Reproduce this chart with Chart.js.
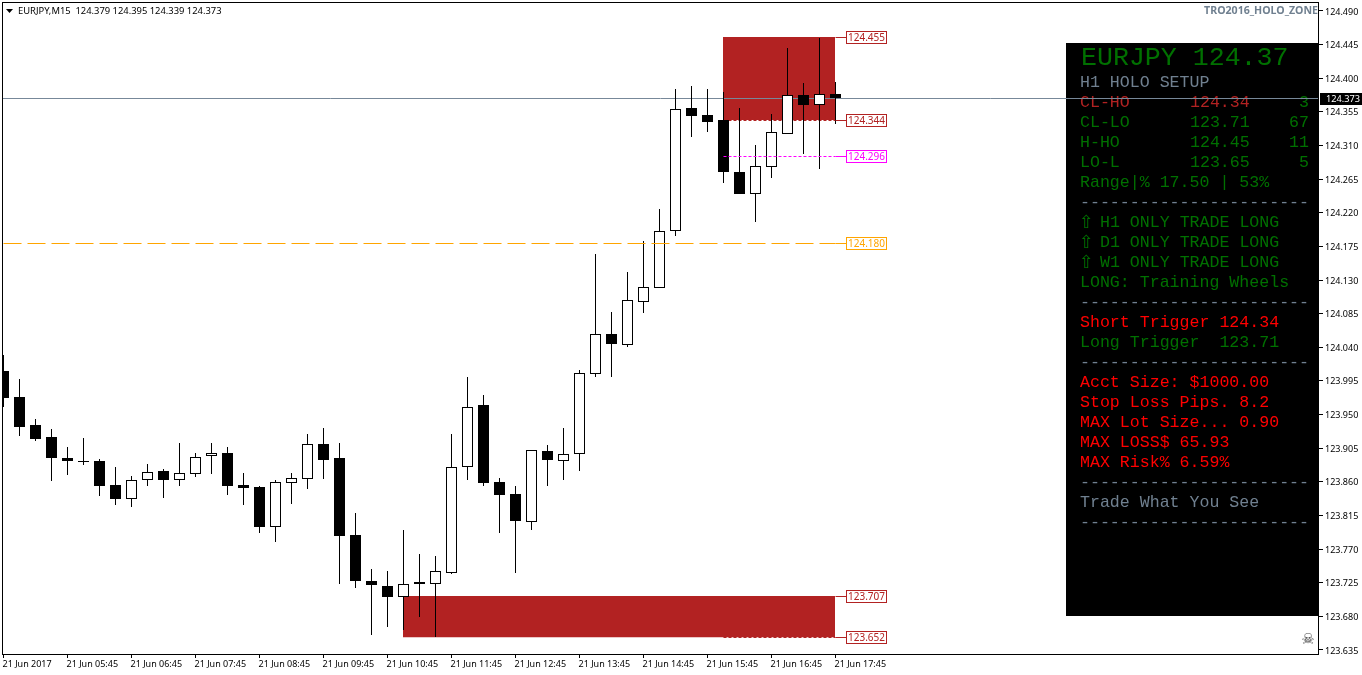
<!DOCTYPE html>
<html>
<head>
<meta charset="utf-8">
<title>EURJPY,M15</title>
<script src="https://cdn.jsdelivr.net/npm/chart.js@4/dist/chart.umd.js"></script>
<style>
  html, body { margin: 0; padding: 0; background: #fff; }
  canvas { display: block; }
</style>
</head>
<body>
<canvas id="chart" width="1362" height="675"></canvas>
<script>
// candle data, one entry per 15 minute bar
const opens = [124.008, 123.973, 123.936, 123.920, 123.892, 123.888, 123.888, 123.856, 123.837, 123.862,
  123.875, 123.862, 123.871, 123.895, 123.899, 123.856, 123.853, 123.800, 123.859, 123.864,
  123.911, 123.892, 123.789, 123.727, 123.721, 123.706, 123.726, 123.723, 123.738, 123.880,
  123.963, 123.860, 123.844, 123.806, 123.901, 123.888, 123.897, 124.004, 124.058, 124.043,
  124.101, 124.119, 124.196, 124.360, 124.351, 124.344, 124.275, 124.245, 124.281, 124.325,
  124.378, 124.364, 124.379];
const highs = [124.030, 123.998, 123.944, 123.931, 123.907, 123.919, 123.891, 123.880, 123.868, 123.884,
  123.877, 123.912, 123.899, 123.912, 123.907, 123.872, 123.854, 123.862, 123.872, 123.924,
  123.932, 123.912, 123.818, 123.743, 123.741, 123.796, 123.763, 123.761, 123.924, 124.000,
  123.976, 123.865, 123.854, 123.903, 123.909, 123.932, 124.010, 124.165, 124.087, 124.141,
  124.182, 124.225, 124.386, 124.390, 124.386, 124.382, 124.360, 124.311, 124.352, 124.441,
  124.394, 124.454, 124.395];
const lows = [123.960, 123.921, 123.915, 123.861, 123.869, 123.883, 123.841, 123.829, 123.826, 123.854,
  123.838, 123.854, 123.867, 123.871, 123.842, 123.829, 123.792, 123.780, 123.830, 123.850,
  123.864, 123.723, 123.718, 123.655, 123.666, 123.662, 123.679, 123.652, 123.737, 123.862,
  123.854, 123.792, 123.738, 123.796, 123.854, 123.862, 123.875, 124.000, 124.000, 124.040,
  124.086, 124.119, 124.189, 124.321, 124.328, 124.260, 124.245, 124.208, 124.267, 124.325,
  124.299, 124.279, 124.339];
const closes = [123.972, 123.933, 123.917, 123.892, 123.888, 123.887, 123.854, 123.837, 123.862, 123.873,
  123.862, 123.872, 123.893, 123.899, 123.854, 123.852, 123.800, 123.860, 123.865, 123.911,
  123.889, 123.788, 123.727, 123.722, 123.706, 123.723, 123.723, 123.741, 123.880, 123.960,
  123.859, 123.842, 123.808, 123.903, 123.889, 123.897, 124.006, 124.058, 124.044, 124.103,
  124.121, 124.196, 124.359, 124.350, 124.342, 124.275, 124.245, 124.283, 124.328, 124.378,
  124.364, 124.379, 124.373];

// axis ticks
const xTickBars = [0, 4, 8, 12, 16, 20, 24, 28, 32, 36, 40, 44, 48, 52];
const xTickLabels = ['21 Jun 2017', '21 Jun 05:45', '21 Jun 06:45', '21 Jun 07:45', '21 Jun 08:45',
  '21 Jun 09:45', '21 Jun 10:45', '21 Jun 11:45', '21 Jun 12:45', '21 Jun 13:45', '21 Jun 14:45',
  '21 Jun 15:45', '21 Jun 16:45', '21 Jun 17:45'];
const yTicks = [124.490, 124.445, 124.400, 124.355, 124.310, 124.265, 124.220, 124.175, 124.130, 124.085,
  124.040, 123.995, 123.950, 123.905, 123.860, 123.815, 123.770, 123.725, 123.680, 123.635];

// holo zones and price levels
const upperZone = { from: 45, to: 52, top: 124.455, bottom: 124.344 };
const lowerZone = { from: 25, to: 52, top: 123.707, bottom: 123.652 };
const levelPrices = [124.455, 124.344, 124.296, 124.180, 123.707, 123.652];
const levelStartBars = [52, 45, 45, 0, 52, 45];
const levelColors = ['#B22222', '#B22222', '#FF00FF', '#FFA500', '#B22222', '#B22222'];
const levelDash = [[], [3, 2], [3, 2], [18, 6], [], [3, 2]];
const currentPrice = 124.373;
const headerText = 'EURJPY,M15  124.379 124.395 124.339 124.373';
const indicatorName = 'TRO2016_HOLO_ZONE';

// text panel
const panelTitle = 'EURJPY 124.37';
const panelSetup = 'H1 HOLO SETUP';
const setupNames = ['CL-HO', 'CL-LO', 'H-HO', 'LO-L'];
const setupPrices = ['124.34', '123.71', '124.45', '123.65'];
const setupPips = ['3', '67', '11', '5'];
const panelRange = 'Range|% 17.50 | 53%';
const trendRows = ['H1 ONLY TRADE LONG', 'D1 ONLY TRADE LONG', 'W1 ONLY TRADE LONG'];
const panelLong = 'LONG: Training Wheels';
const shortTrigger = 'Short Trigger 124.34';
const longTrigger = 'Long Trigger  123.71';
const riskRows = ['Acct Size: $1000.00', 'Stop Loss Pips. 8.2', 'MAX Lot Size... 0.90', 'MAX LOSS$ 65.93', 'MAX Risk% 6.59%'];
const panelFoot = 'Trade What You See';
const panelRule = '-----------------------';

const bars = opens.map((o, i) => i);
const uiFont = '"Noto Sans", sans-serif';
const monoFont = '"Liberation Mono", monospace';
const GREEN = '#007000';
const SLATE = '#708090';

const datasets = [];

// candle bodies, white when the bar closed up
datasets.push({
  type: 'bar',
  order: 1,
  data: bars.map(i => ({ x: i, y: [opens[i], closes[i]] })),
  backgroundColor: bars.map(i => closes[i] >= opens[i] ? '#fff' : '#000'),
  borderColor: '#000',
  borderWidth: 1,
  borderSkipped: false,
  inflateAmount: 0,
  grouped: false,
  barPercentage: 1,
  categoryPercentage: 1,
  maxBarThickness: 11
});

// wicks
datasets.push({
  type: 'bar',
  order: 2,
  data: bars.map(i => ({ x: i, y: [lows[i], highs[i]] })),
  backgroundColor: '#000',
  borderWidth: 0,
  inflateAmount: 0,
  grouped: false,
  barPercentage: 1,
  categoryPercentage: 1,
  maxBarThickness: 1
});

// current price line sits between zones and candles
datasets.push({
  type: 'line',
  order: 3,
  data: [{ x: -1, y: currentPrice }, { x: 83, y: currentPrice }],
  borderColor: '#778899',
  borderWidth: 1,
  pointRadius: 0
});

// the two red zones, at the back
[upperZone, lowerZone].forEach(zone => {
  datasets.push({
    type: 'line',
    order: 5,
    isZone: true,
    data: [{ x: zone.from, y: zone.top }, { x: zone.to, y: zone.top }],
    borderWidth: 0,
    pointRadius: 0,
    backgroundColor: '#B22222',
    fill: { value: zone.bottom }
  });
});

// level lines and the short solid piece going to each label
levelPrices.forEach((price, i) => {
  datasets.push({
    type: 'line',
    order: i === 1 || i === 5 ? 4 : 0,
    data: [{ x: levelStartBars[i], y: price }, { x: 52, y: price }],
    borderColor: levelColors[i],
    borderWidth: 1,
    borderDash: levelDash[i],
    pointRadius: 0
  });
  datasets.push({
    type: 'line',
    order: 0,
    data: [{ x: 52, y: price }, { x: 52.69, y: price }],
    borderColor: levelColors[i],
    borderWidth: 1,
    pointRadius: 0
  });
});

// keeps candles and lines on whole pixels like the terminal does
const snapPlugin = {
  id: 'snap',
  afterDatasetsUpdate(chart) {
    chart.getSortedVisibleDatasetMetas().forEach(meta => {
      const ds = chart.data.datasets[meta.index];
      meta.data.forEach(el => {
        if (meta.type === 'bar') {
          el.y = Math.round(el.y);
          el.base = Math.round(el.base);
          if (el.y === el.base) el.base += 1;
        } else if (ds.isZone) {
          el.x = Math.floor(el.x);
          el.y = Math.round(el.y);
        } else {
          el.y = Math.round(el.y) + 0.5;
        }
      });
    });
  }
};

// black panel goes under the price line
const panelPlugin = {
  id: 'panel',
  beforeDatasetsDraw(chart) {
    const ctx = chart.ctx;
    ctx.save();
    ctx.fillStyle = '#000';
    ctx.fillRect(1066, 43, 253, 573);
    ctx.textBaseline = 'middle';
    ctx.textAlign = 'left';

    const row = (text, y, color, x) => {
      ctx.fillStyle = color;
      ctx.fillText(text, x === undefined ? 1080 : x, y);
    };

    ctx.font = '26.6px ' + monoFont;
    row(panelTitle, 58, GREEN, 1081);

    ctx.font = '16.6px ' + monoFont;
    row(panelSetup, 83, SLATE);
    setupNames.forEach((name, i) => {
      const y = 103 + i * 20;
      const color = i === 0 ? '#B22222' : GREEN;
      row(name, y, color);
      row(setupPrices[i], y, color, 1190);
      ctx.textAlign = 'right';
      row(setupPips[i], y, GREEN, 1309);
      ctx.textAlign = 'left';
    });
    row(panelRange, 183, GREEN);
    row(panelRule, 203, SLATE);
    trendRows.forEach((text, i) => {
      const y = 223 + i * 20;
      ctx.font = '18px "DejaVu Sans", sans-serif';
      row('\u21E7', y, GREEN, 1079);
      ctx.font = '16.6px ' + monoFont;
      row(text, y, GREEN, 1100);
    });
    row(panelLong, 283, GREEN);
    row(panelRule, 303, SLATE);
    row(shortTrigger, 323, '#FF0000');
    row(longTrigger, 343, GREEN);
    row(panelRule, 363, SLATE);
    riskRows.forEach((text, i) => row(text, 383 + i * 20, '#FF0000'));
    row(panelRule, 483, SLATE);
    row(panelFoot, 503, SLATE);
    row(panelRule, 523, SLATE);
    ctx.restore();
  },
  afterDraw(chart) {
    const ctx = chart.ctx;
    const y = chart.scales.y;
    const area = chart.chartArea;
    ctx.save();

    // frame round the plot
    ctx.strokeStyle = '#000';
    ctx.lineWidth = 1;
    ctx.strokeRect(area.left + 0.5, area.top + 0.5, area.right - area.left - 1, area.bottom - area.top - 1);

    // level labels
    ctx.font = '10px ' + uiFont;
    ctx.textBaseline = 'middle';
    levelPrices.forEach((price, i) => {
      const py = Math.round(y.getPixelForValue(price));
      ctx.fillStyle = '#fff';
      ctx.fillRect(846, py - 6, 41, 13);
      ctx.strokeStyle = levelColors[i];
      ctx.strokeRect(846.5, py - 5.5, 40, 12);
      ctx.fillStyle = levelColors[i];
      ctx.textAlign = 'left';
      ctx.fillText(price.toFixed(3), 848, py + 1.5);
    });

    // current price tag
    const py = Math.round(y.getPixelForValue(currentPrice));
    ctx.fillStyle = '#000';
    ctx.fillRect(1320, py - 5, 42, 12);
    ctx.fillStyle = '#fff';
    ctx.font = '9.2px ' + uiFont;
    ctx.fillText(currentPrice.toFixed(3), 1326, py + 1);

    // header
    ctx.fillStyle = '#000';
    ctx.beginPath();
    ctx.moveTo(6, 9);
    ctx.lineTo(13, 9);
    ctx.lineTo(9.5, 13);
    ctx.closePath();
    ctx.fill();
    ctx.font = '9.4px ' + uiFont;
    ctx.fillText(headerText, 18, 11);

    ctx.textAlign = 'right';
    ctx.fillStyle = SLATE;
    ctx.font = 'bold 10.6px ' + uiFont;
    ctx.fillText(indicatorName, 1318, 11);

    ctx.textAlign = 'center';
    ctx.fillStyle = '#444';
    ctx.font = '15px "DejaVu Sans", sans-serif';
    ctx.fillText('\u2620', 1308, 640);
    ctx.restore();
  }
};

const chart = new Chart(document.getElementById('chart').getContext('2d'), {
  type: 'bar',
  data: { datasets: datasets },
  plugins: [snapPlugin, panelPlugin],
  options: {
    responsive: false,
    animation: false,
    devicePixelRatio: 1,
    layout: { padding: { left: 2, top: 2, right: 0, bottom: 0 } },
    plugins: { legend: { display: false }, tooltip: { enabled: false } },
    scales: {
      x: {
        type: 'linear',
        offset: false,
        min: -0.09375,
        max: 82.21875,
        afterFit(scale) {
          scale.height = 20;
          scale.paddingLeft = 0;
          scale.paddingRight = 0;
        },
        afterBuildTicks(scale) { scale.ticks = xTickBars.map(v => ({ value: v })); },
        grid: { offset: false, drawOnChartArea: false, tickLength: 3, tickColor: '#000' },
        border: { display: false },
        ticks: {
          autoSkip: false,
          maxRotation: 0,
          align: 'start',
          padding: 1,
          labelOffset: -1,
          color: '#000',
          font: { family: uiFont, size: 9 },
          callback: (value, index) => xTickLabels[index]
        }
      },
      y: {
        position: 'right',
        min: 123.6283,
        max: 124.502,
        afterFit(scale) {
          scale.width = 43;
          scale.paddingTop = 0;
          scale.paddingBottom = 0;
        },
        afterBuildTicks(scale) { scale.ticks = yTicks.map(v => ({ value: v })); },
        grid: { drawOnChartArea: false, tickLength: 4, tickColor: '#000' },
        border: { display: false },
        ticks: {
          autoSkip: false,
          padding: 2,
          labelOffset: 1,
          color: '#000',
          font: { family: uiFont, size: 9 },
          callback: value => value.toFixed(3)
        }
      }
    }
  }
});
</script>
</body>
</html>
